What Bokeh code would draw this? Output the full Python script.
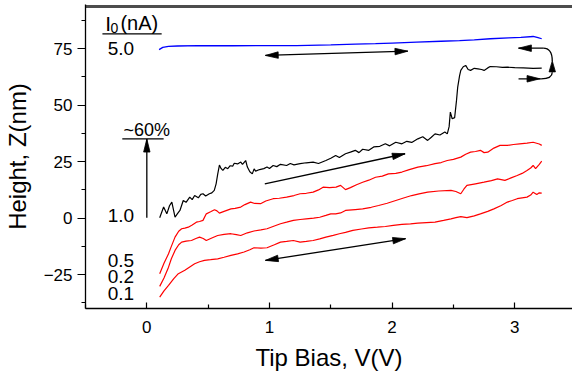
import numpy as np
from bokeh.plotting import figure
from bokeh.models import Range1d, FixedTicker
from bokeh.embed import file_html
from bokeh.resources import INLINE
from bokeh.core.properties import value

# ---------------- data ----------------
v_blue = [0.10, 0.13, 0.177, 0.25, 0.42, 0.7, 1.0, 1.22, 1.5, 1.7, 1.865, 2.0, 2.2, 2.4, 2.55, 2.67, 2.8, 2.95, 3.05, 3.15, 3.19, 3.22]
z_blue = [74.6, 75.6, 76.0, 76.2, 76.4, 76.3, 76.4, 76.4, 76.7, 77.0, 77.2, 77.5, 77.9, 78.3, 78.6, 78.9, 79.4, 79.8, 80.0, 80.4, 79.9, 79.4]

v_black = [0.105, 0.137, 0.163, 0.185, 0.204, 0.23, 0.25, 0.27, 0.297, 0.32, 0.35, 0.37, 0.39, 0.42, 0.44, 0.458,
           0.48, 0.51, 0.53, 0.55, 0.565, 0.578, 0.592, 0.605, 0.62, 0.64, 0.66, 0.68, 0.70, 0.713, 0.74, 0.766,
           0.78, 0.806, 0.82, 0.84, 0.86, 0.875, 0.887, 0.92, 0.954, 0.98, 1.0, 1.03, 1.06, 1.09, 1.14, 1.17, 1.2,
           1.25, 1.3, 1.356, 1.4, 1.46, 1.5, 1.54, 1.57, 1.62, 1.66, 1.70, 1.73, 1.76, 1.81, 1.85, 1.9, 1.945,
           1.98, 2.03, 2.08, 2.12, 2.16, 2.21, 2.25, 2.29, 2.32, 2.35, 2.39, 2.43, 2.45, 2.465, 2.475, 2.49, 2.51,
           2.525, 2.535, 2.55, 2.56, 2.58, 2.60, 2.62, 2.64, 2.67, 2.70, 2.73, 2.75, 2.78, 2.80, 2.85, 2.90, 2.94,
           3.0, 3.07, 3.15, 3.22]
z_black = [0.2, 4.9, 1.9, 5.5, 7.1, 0.4, 2.0, 3.4, 7.8, 7.0, 9.3, 8.2, 10.0, 9.0, 10.5, 10.8,
           9.8, 10.8, 11.2, 12.3, 15.2, 19.5, 23.5, 22.0, 21.1, 22.5, 21.9, 23.2, 23.0, 24.3, 24.0, 24.8,
           23.8, 25.5, 22.6, 20.5, 19.6, 21.8, 20.8, 21.5, 21.9, 22.6, 22.0, 23.3, 22.8, 23.8, 23.3, 24.2, 23.6,
           24.1, 24.5, 24.8, 24.2, 25.5, 26.5, 27.7, 26.8, 28.5, 29.2, 30.0, 29.0, 30.5, 30.0, 31.5, 31.8, 32.9,
           32.0, 33.6, 32.9, 34.0, 33.5, 35.1, 36.0, 34.4, 35.8, 37.3, 36.8, 38.1, 37.3, 40.5, 46.9, 44.0, 44.5,
           52.0, 58.0, 63.0, 65.4, 67.0, 67.6, 65.8, 65.4, 66.3, 66.1, 65.8, 65.4, 66.5, 67.1, 67.0, 66.7, 66.8,
           66.6, 66.5, 66.3, 66.4]

v_r05 = [0.105, 0.14, 0.177, 0.2, 0.23, 0.26, 0.284, 0.31, 0.338, 0.37, 0.404, 0.43, 0.458, 0.485, 0.52, 0.552,
         0.572, 0.592, 0.63, 0.686, 0.72, 0.766, 0.80, 0.846, 0.88, 0.927, 0.97, 1.03, 1.08, 1.14, 1.2, 1.25,
         1.30, 1.356, 1.40, 1.437, 1.49, 1.543, 1.58, 1.62, 1.66, 1.71, 1.76, 1.81, 1.865, 1.92, 1.97, 2.03,
         2.08, 2.14, 2.21, 2.28, 2.35, 2.40, 2.45, 2.50, 2.56, 2.60, 2.64, 2.68, 2.72, 2.75, 2.78, 2.83, 2.88,
         2.94, 2.99, 3.04, 3.10, 3.15, 3.20, 3.22]
z_r05 = [-24.6, -20.0, -15.8, -12.5, -8.4, -5.8, -4.7, -4.4, -4.0, -3.0, -1.8, -1.5, -1.0, 1.9, 2.8, 3.7,
         3.2, 2.2, 3.0, 4.1, 4.3, 4.9, 6.0, 7.1, 6.5, 6.4, 7.6, 8.6, 8.8, 9.3, 10.0, 10.8,
         11.0, 11.5, 12.5, 13.7, 13.5, 13.7, 14.5, 12.6, 13.5, 14.8, 15.9, 16.8, 18.1, 18.6, 19.6, 19.8,
         20.4, 21.5, 22.6, 23.2, 24.1, 24.6, 25.5, 26.0, 27.0, 28.3, 29.2, 29.5, 30.0, 29.0, 29.2, 31.0, 32.2,
         32.2, 32.6, 32.9, 33.2, 33.6, 32.8, 32.2]

v_r02 = [0.105, 0.14, 0.177, 0.2, 0.23, 0.26, 0.284, 0.32, 0.364, 0.40, 0.43, 0.46, 0.485, 0.53, 0.578, 0.63,
         0.686, 0.73, 0.766, 0.82, 0.874, 0.93, 0.98, 1.04, 1.09, 1.14, 1.195, 1.25, 1.30, 1.36, 1.41, 1.46,
         1.50, 1.54, 1.58, 1.62, 1.70, 1.76, 1.83, 1.89, 1.96, 2.03, 2.10, 2.16, 2.22, 2.29, 2.38, 2.48, 2.52,
         2.56, 2.585, 2.61, 2.68, 2.75, 2.81, 2.86, 2.92, 2.97, 3.02, 3.06, 3.10, 3.13, 3.15, 3.17, 3.20, 3.22]
z_r02 = [-30.2, -26.5, -21.7, -18.0, -14.3, -11.8, -10.6, -10.2, -9.9, -9.0, -8.4, -9.0, -9.9, -8.8, -7.7, -7.2,
         -6.9, -7.3, -7.7, -6.5, -5.7, -5.2, -4.7, -3.5, -2.5, -1.8, -1.0, -0.6, -0.3, 0.0, 0.4, 1.2,
         1.9, 1.9, 2.3, 3.4, 3.8, 4.1, 4.8, 5.6, 6.6, 7.8, 9.0, 10.0, 10.7, 11.5, 12.0, 12.3, 11.8,
         10.8, 12.8, 14.5, 15.2, 15.9, 16.6, 17.4, 16.7, 17.8, 18.9, 19.8, 21.1, 22.2, 23.3, 21.9, 23.8, 25.2]

v_r01 = [0.105, 0.14, 0.177, 0.22, 0.257, 0.31, 0.35, 0.39, 0.43, 0.47, 0.52, 0.578, 0.63, 0.686, 0.74, 0.793,
         0.84, 0.874, 0.93, 0.98, 1.04, 1.09, 1.14, 1.195, 1.25, 1.30, 1.356, 1.41, 1.46, 1.52, 1.57, 1.62,
         1.68, 1.75, 1.81, 1.88, 1.945, 2.01, 2.08, 2.15, 2.21, 2.28, 2.35, 2.42, 2.48, 2.52, 2.56, 2.61, 2.67,
         2.72, 2.78, 2.83, 2.89, 2.94, 2.98, 3.02, 3.06, 3.10, 3.13, 3.15, 3.18, 3.20, 3.22]
z_r01 = [-35.0, -32.2, -29.8, -26.8, -24.6, -23.1, -21.6, -20.2, -19.3, -18.7, -18.4, -18.0, -17.3, -16.5, -15.8, -15.0,
         -14.0, -13.1, -13.3, -13.1, -11.8, -10.6, -10.3, -9.9, -10.6, -10.3, -9.9, -9.2, -8.4, -7.6, -6.9, -6.3,
         -5.4, -4.8, -4.3, -4.0, -3.7, -3.2, -2.8, -2.5, -2.2, -2.0, -1.8, -1.0, -0.3, 0.2, 0.7, 0.2, 1.0,
         1.9, 3.0, 4.1, 5.6, 7.1, 7.8, 8.6, 9.0, 9.3, 10.2, 11.5, 10.5, 11.2, 11.1]

x_ticks = [0, 1, 2, 3]
y_ticks = [-25, 0, 25, 50, 75]
current_labels = ["5.0", "1.0", "0.5", "0.2", "0.1"]
label_z = [74.9, 1.2, -18.7, -25.8, -33.2]

# ---------------- layout ----------------
W, H = 572, 377
BL, BB, BT = 78, 69, 4
X0, X1 = -0.5, 3.471
Y0, Y1 = -40.0, 94.56
FW, FH = W - BL, H - BB - BT
SX = FW / (X1 - X0)
SY = FH / (Y1 - Y0)

FONT = value("Liberation Sans")

p = figure(width=W, height=H, x_range=Range1d(X0, X1), y_range=Range1d(Y0, Y1),
           output_backend="svg", toolbar_location=None,
           min_border_left=BL, min_border_right=0, min_border_top=BT, min_border_bottom=BB)
p.outline_line_color = None
p.xgrid.visible = False
p.ygrid.visible = False
p.background_fill_color = "white"
p.border_fill_color = "white"

p.xaxis.ticker = FixedTicker(ticks=x_ticks, minor_ticks=[-0.5, 0.5, 1.5, 2.5, 3.5])
p.yaxis.ticker = FixedTicker(ticks=y_ticks, minor_ticks=[-37.5, -12.5, 12.5, 37.5, 62.5, 87.5])

for ax in (p.xaxis[0], p.yaxis[0]):
    ax.axis_line_color = "black"
    ax.axis_line_width = 1.3
    ax.major_tick_line_color = "black"
    ax.minor_tick_line_color = "black"
    ax.major_tick_line_width = 1.2
    ax.minor_tick_line_width = 1.2
    ax.major_label_text_font = "Liberation Sans"
    ax.major_label_text_font_size = "17px"
    ax.major_label_text_color = "black"
    ax.axis_label_text_font = "Liberation Sans"
    ax.axis_label_text_font_size = "24px"
    ax.axis_label_text_font_style = "normal"
    ax.axis_label_text_color = "black"

p.xaxis.axis_label = "Tip Bias, V(V)"
p.xaxis.major_tick_in = 6
p.xaxis.major_tick_out = 0
p.xaxis.minor_tick_in = 4
p.xaxis.minor_tick_out = 0
p.xaxis.major_label_standoff = 12
p.xaxis.axis_label_standoff = 8

p.yaxis.axis_label = "Height, Z(nm)"
p.yaxis.major_tick_in = 0
p.yaxis.major_tick_out = 8
p.yaxis.minor_tick_in = 0
p.yaxis.minor_tick_out = 4
p.yaxis.major_label_standoff = 5
p.yaxis.axis_label_standoff = 10

# top frame border (grey)
p.line([X0, X1], [Y1 - 0.9, Y1 - 0.9], line_color="#4d4d4d", line_width=3)

# ---------------- curves ----------------
p.line(v_blue, z_blue, line_color="#0000ff", line_width=1.3)
p.line(v_black, z_black, line_color="black", line_width=1.2)
p.line(v_r05, z_r05, line_color="#ff0000", line_width=1.2)
p.line(v_r02, z_r02, line_color="#ff0000", line_width=1.2)
p.line(v_r01, z_r01, line_color="#ff0000", line_width=1.2)

# ---------------- arrows ----------------
def head(tx, ty, fx, fy, L=13.0, Wd=6.5):
    dx, dy = (tx - fx) * SX, (ty - fy) * SY
    n = (dx * dx + dy * dy) ** 0.5
    ux, uy = dx / n, dy / n
    bx, by = tx * SX - L * ux, ty * SY - L * uy
    px, py = -uy, ux
    xs = [tx, (bx + px * Wd / 2) / SX, (bx - px * Wd / 2) / SX]
    ys = [ty, (by + py * Wd / 2) / SY, (by - py * Wd / 2) / SY]
    return xs, ys

hx, hy = [], []
def arrow(x0, y0, x1, y1, both=False):
    p.line([x0, x1], [y0, y1], line_color="black", line_width=1.3)
    a, b = head(x1, y1, x0, y0)
    hx.append(a); hy.append(b)
    if both:
        a, b = head(x0, y0, x1, y1)
        hx.append(a); hy.append(b)

arrow(0.967, 72.0, 2.128, 73.9, both=True)
arrow(0.962, 15.2, 2.106, 28.5)
arrow(0.967, -18.7, 2.11, -9.1, both=True)
arrow(0.0, 0.2, 0.0, 35.0)

# curved double arrow at right
p.line([3.031, 3.232], [75.22, 75.22], line_color="black", line_width=1.3)
p.quadratic(x0=[3.232], y0=[75.22], x1=[3.306], y1=[69.5], cx=[3.306], cy=[75.22],
            line_color="black", line_width=1.3)
p.quadratic(x0=[3.306], y0=[64.6], x1=[3.215], y1=[61.68], cx=[3.306], cy=[61.68],
            line_color="black", line_width=1.3)
p.line([3.031, 3.215], [61.68, 61.68], line_color="black", line_width=1.3)
a, b = head(3.031, 75.22, 3.2, 75.22); hx.append(a); hy.append(b)
a, b = head(3.205, 61.68, 3.0, 61.68); hx.append(a); hy.append(b)
a, b = head(3.306, 69.6, 3.306, 60.0, L=11.0); hx.append(a); hy.append(b)

p.patches(hx, hy, fill_color="black", line_color="black", line_width=0.8)

# underlines
p.line([-0.362, 0.121], [81.6, 81.6], line_color="black", line_width=1.3)
p.line([-0.2, 0.137], [35.1, 35.1], line_color="black", line_width=1.3)

# ---------------- texts ----------------
p.text(x=[-0.211] * len(current_labels), y=label_z, text=current_labels, text_font=FONT,
       text_font_size="19px", text_align="center", text_baseline="middle", text_color="black")
p.text(x=[0.0], y=[39.2], text=["~60%"], text_font=FONT, text_font_size="18px",
       text_align="center", text_baseline="middle", text_color="black")
p.text(x=[-0.338], y=[86.3], text=["I"], text_font=FONT, text_font_size="21px",
       text_align="left", text_baseline="middle", text_color="black")
p.text(x=[-0.296], y=[84.2], text=["0"], text_font=FONT, text_font_size="14px",
       text_align="left", text_baseline="middle", text_color="black")
p.text(x=[-0.215], y=[86.3], text=["(nA)"], text_font=FONT, text_font_size="20px",
       text_align="left", text_baseline="middle", text_color="black")

open("out.html", "w").write(file_html(p, INLINE))
